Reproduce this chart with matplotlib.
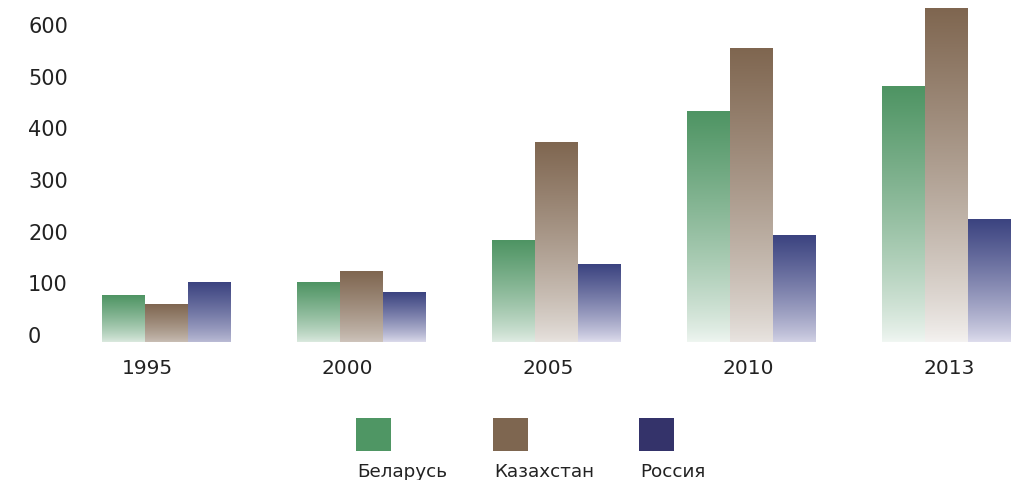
import numpy as np
import matplotlib
matplotlib.use("Agg")
import matplotlib.pyplot as plt
from matplotlib.colors import to_rgb
from matplotlib.patches import Rectangle

# ---- data ----
years = ["1995", "2000", "2005", "2010", "2013"]
series_names = ["Беларусь", "Казахстан", "Россия"]
belarus = [74, 100, 180, 431, 480]
kazakhstan = [58, 120, 371, 553, 630]
russia = [100, 81, 135, 191, 222]
yticks = [0, 100, 200, 300, 400, 500, 600]

# ---- style ----
bar_colors = ["#4e9463", "#7f6650", "#3b4380"]
fade_targets = ["#ffffff", "#ffffff", "#f3f1fb"]
legend_colors = ["#4f9664", "#7e6650", "#34336a"]
# how much of the colour remains at the bottom of each bar
fade_bottom = [
    [0.20, 0.20, 0.17, 0.09, 0.08],
    [0.42, 0.38, 0.18, 0.17, 0.08],
    [0.30, 0.12, 0.10, 0.17, 0.11],
]
text_color = "#222222"

W, H = 1014, 481
fig = plt.figure(figsize=(W / 100, H / 100), dpi=100)
ax_bottom_px = 343
ax = fig.add_axes([0, 1 - ax_bottom_px / H, 1, ax_bottom_px / H])

ymin, ymax = -15.5, 648.4
x_left, group_step = -166.5 / 195, 1.0
xmax = (W - 166.5) / 195
bar_w = 42.7 / 195

values = [belarus, kazakhstan, russia]
n = 256
t = np.linspace(0, 1, n)  # 0 bottom -> 1 top
for s, vals in enumerate(values):
    c = np.array(to_rgb(bar_colors[s]))
    tgt = np.array(to_rgb(fade_targets[s]))
    for i, v in enumerate(vals):
        fb = fade_bottom[s][i]
        frac = fb + (1 - fb) * (t ** 0.8)
        rgb = tgt[None, :] + (c - tgt)[None, :] * frac[:, None]
        img = np.ones((n, 1, 4))
        img[:, 0, :3] = rgb
        xc = i * group_step + (s - 1) * bar_w
        ax.imshow(img, extent=(xc - bar_w / 2, xc + bar_w / 2, ymin, v),
                  origin="lower", aspect="auto", interpolation="bilinear", zorder=2)

ax.set_xlim(x_left, xmax)
ax.set_ylim(ymin, ymax)

for sp in ax.spines.values():
    sp.set_visible(False)

ax.set_yticks(yticks)
ax.set_yticklabels([str(v) for v in yticks], ha="left", fontsize=15, color=text_color)
ax.tick_params(axis="y", length=0, pad=-28 * 0.72)

label_step = 200.5 / 195
label_shift = (147 - 166.5) / 195
ax.set_xticks([i * label_step + label_shift for i in range(len(years))])
ax.set_xticklabels(years, fontsize=14.5, color=text_color)
ax.tick_params(axis="x", length=0, pad=16 * 0.72)

# ---- legend ----
leg_x = [356, 493, 639]
for k, name in enumerate(series_names):
    fig.add_artist(Rectangle((leg_x[k] / W, 1 - 452 / H), 35 / W, 33 / H,
                             transform=fig.transFigure, facecolor=legend_colors[k],
                             edgecolor="none"))
    fig.text((leg_x[k] + 1) / W, 1 - 472 / H, name, ha="left", va="center",
             fontsize=13.2, color=text_color)

fig.savefig("out.png", dpi=100)
